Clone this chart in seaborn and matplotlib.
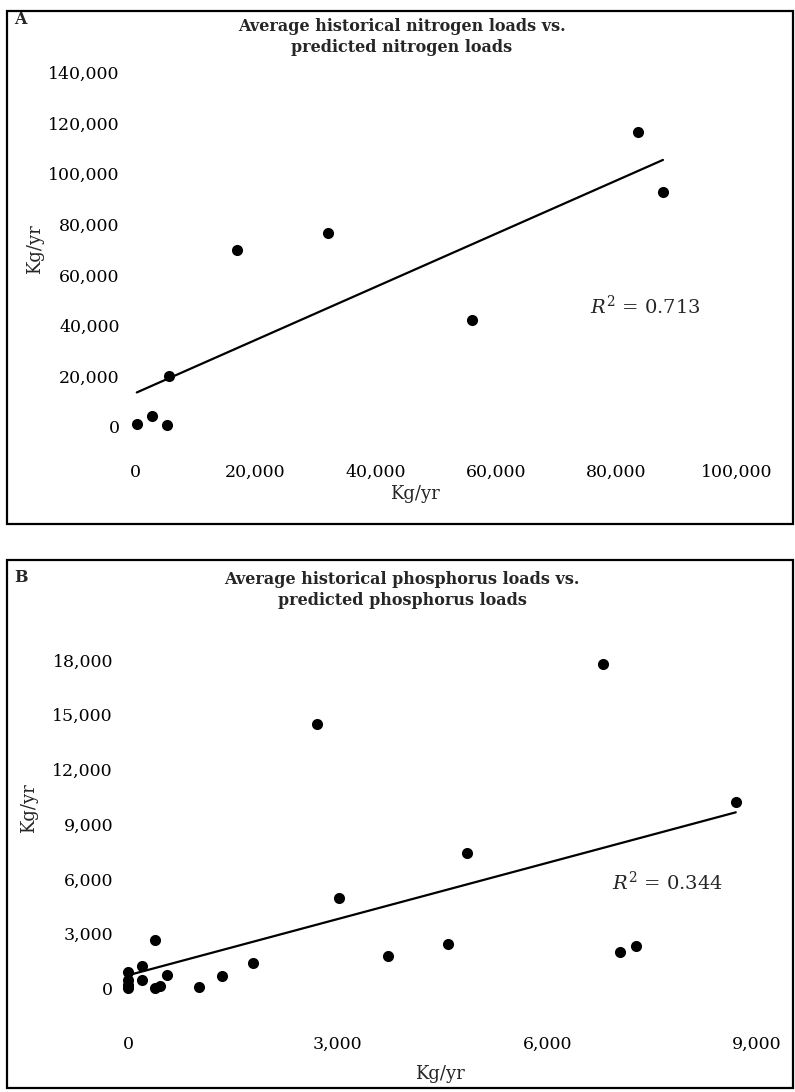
import matplotlib
matplotlib.use("Agg")
import matplotlib.pyplot as plt
from matplotlib.patches import Rectangle
from matplotlib.ticker import FuncFormatter
import seaborn as sns
import pandas as pd

# Panel A: nitrogen loads (kg/yr)
nitrogen_predicted = [300, 2800, 5300, 5650, 17000, 32000, 56000, 83500, 87700]
nitrogen_historical = [950, 4350, 670, 20150, 69800, 76700, 42200, 116500, 92800]
nitrogen_xticks = [0, 20000, 40000, 60000, 80000, 100000]
nitrogen_yticks = [0, 20000, 40000, 60000, 80000, 100000, 120000, 140000]

# Panel B: phosphorus loads (kg/yr)
phosphorus_predicted = [0, 0, 0, 0, 190, 190, 380, 380, 455, 550, 1017, 1338,
                        1780, 2700, 3020, 3725, 4585, 4850, 7045, 7275, 6800, 8700]
phosphorus_historical = [910, 455, 180, 0, 1220, 455, 2650, 0, 125, 730, 55, 675,
                         1390, 14500, 4970, 1790, 2430, 7400, 2010, 2320, 17800, 10200]
phosphorus_xticks = [0, 3000, 6000, 9000]
phosphorus_yticks = [0, 3000, 6000, 9000, 12000, 15000, 18000]

sns.set_theme(style="white")
plt.rcParams["font.family"] = ["DejaVu Serif"]
plt.rcParams["mathtext.fontset"] = "dejavuserif"

W, H = 795, 1092
fig = plt.figure(figsize=(W / 100, H / 100), dpi=100)


def px_axes(left, top, right, bottom):
    return fig.add_axes([left / W, 1 - bottom / H, (right - left) / W, (bottom - top) / H])


def frame(left, top, right, bottom):
    fig.patches.append(Rectangle((left / W, 1 - bottom / H), (right - left) / W,
                                 (bottom - top) / H, transform=fig.transFigure,
                                 fill=False, edgecolor="black", linewidth=1.6))


comma = FuncFormatter(lambda v, _: f"{int(v):,}")


def panel(ax, x, y, xticks, yticks, xpad, r2_text, r2_pos, xlab_pos, ylab_pos):
    df = pd.DataFrame({"x": x, "y": y})
    sns.regplot(data=df, x="x", y="y", ax=ax, scatter=False, ci=None,
                truncate=True, line_kws={"color": "black", "linewidth": 1.6})
    sns.scatterplot(data=df, x="x", y="y", ax=ax, color="black", s=64,
                    edgecolor="black", linewidth=0, zorder=3, clip_on=False)
    ax.set_xlim(xticks[0], xticks[-1])
    ax.set_ylim(yticks[0], yticks[-1])
    ax.set_xticks(xticks)
    ax.set_yticks(yticks)
    ax.xaxis.set_major_formatter(comma)
    ax.yaxis.set_major_formatter(comma)
    ax.tick_params(axis="both", labelsize=12.5, colors="black", length=0)
    ax.tick_params(axis="x", pad=xpad)
    ax.tick_params(axis="y", pad=11)
    for s in ax.spines.values():
        s.set_visible(False)
    ax.set_facecolor("none")
    ax.set_xlabel("Kg/yr", fontsize=13)
    ax.set_ylabel("Kg/yr", fontsize=13)
    ax.xaxis.set_label_coords(*xlab_pos)
    ax.yaxis.set_label_coords(*ylab_pos)
    ax.text(r2_pos[0], r2_pos[1], r2_text, transform=ax.transData,
            fontsize=14, ha="left", va="center")


# Panel A
frame(7, 11, 793, 524)
axA = px_axes(135, 72.4, 737, 426.7)
panel(axA, nitrogen_predicted, nitrogen_historical, nitrogen_xticks, nitrogen_yticks, 27,
      r"$R^2$ = 0.713", (75500, 47500), (0.465, -0.165), (-0.151, 0.5))
fig.text(402 / W, 1 - 37 / H, "Average historical nitrogen loads vs.\npredicted nitrogen loads",
         ha="center", va="center", fontsize=11.5, fontweight="bold", linespacing=1.35)
fig.text(14 / W, 1 - 20 / H, "A", ha="left", va="center", fontsize=11.5, fontweight="bold")

# Panel B
frame(7, 560, 793, 1088)
axB = px_axes(128.3, 660.1, 756.7, 988.3)
panel(axB, phosphorus_predicted, phosphorus_historical, phosphorus_xticks, phosphorus_yticks, 34,
      r"$R^2$ = 0.344", (6930, 5800), (0.496, -0.235), (-0.144, 0.55))
fig.text(402 / W, 1 - 590 / H, "Average historical phosphorus loads vs.\npredicted phosphorus loads",
         ha="center", va="center", fontsize=11.5, fontweight="bold", linespacing=1.35)
fig.text(14 / W, 1 - 578 / H, "B", ha="left", va="center", fontsize=11.5, fontweight="bold")

fig.savefig("out.png", dpi=100, facecolor="white")
